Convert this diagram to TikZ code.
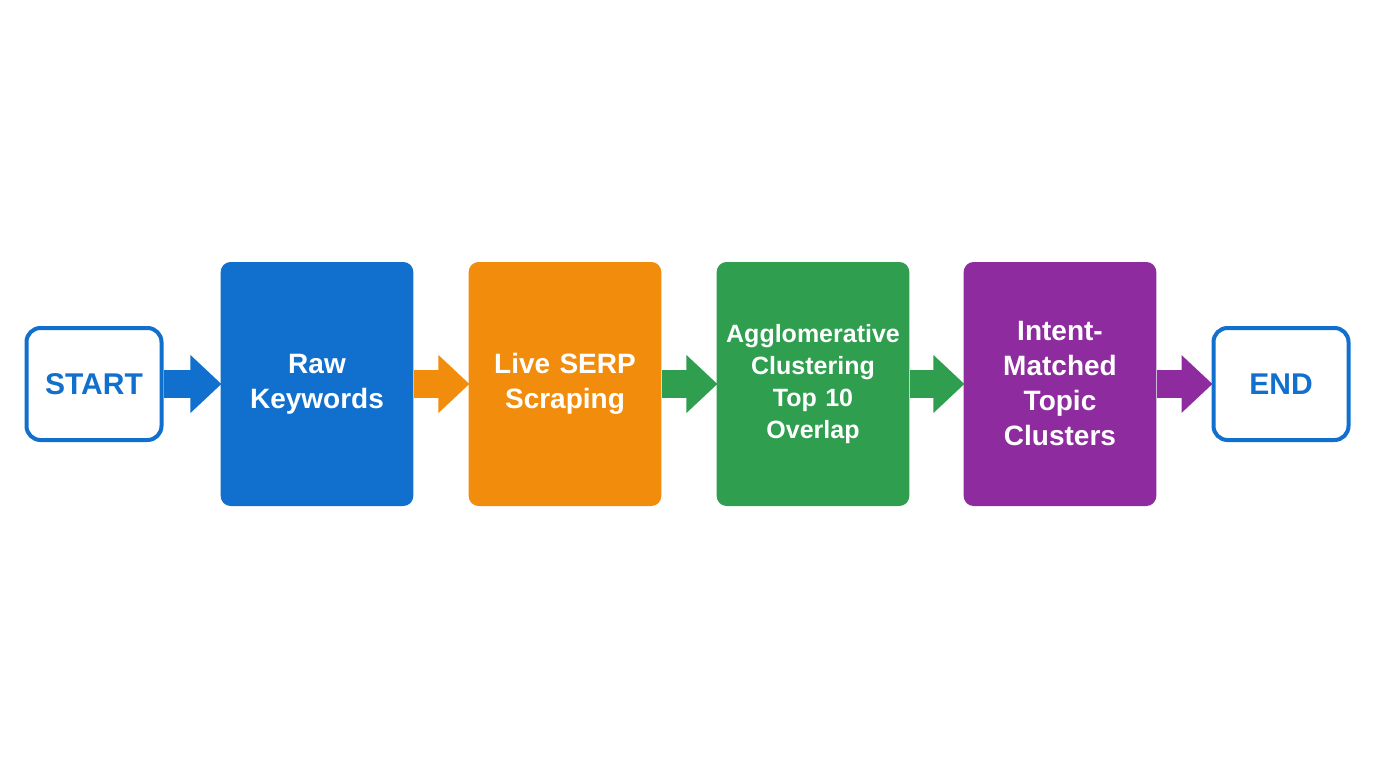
\documentclass[tikz,border=0pt]{standalone}
\usepackage{fontspec}
\setmainfont{Liberation Sans}
\usetikzlibrary{arrows.meta}
\definecolor{cblue}{HTML}{1170CD}
\definecolor{corange}{HTML}{F28C0C}
\definecolor{cgreen}{HTML}{2F9E4F}
\definecolor{cpurple}{HTML}{8E2B9E}
\begin{document}
\begin{tikzpicture}[x=1pt,y=-1pt]
    % Styles
    \tikzset{
      stage/.style={rectangle, rounded corners=10pt, minimum width=192pt, minimum height=244pt,
        text width=186pt, align=center, text=white, font=\bfseries\fontsize{28}{35}\selectfont},
      term/.style={draw=cblue, line width=4pt, rectangle, rounded corners=14pt, fill=white,
        minimum width=135pt, minimum height=112pt, text=cblue, font=\bfseries\fontsize{30}{34}\selectfont},
      flow/.style={line width=28pt, -{Triangle[length=31pt,width=56pt]}, shorten >=-1pt}
    }
    \useasboundingbox (0,0) rectangle (1376,768);

    % Terminals
    \node[term] (start) at (94,384) {START};
    \node[term] (end) at (1281,384) {END};

    % Process steps
    \node[stage, fill=cblue] (raw) at (317,384) {Raw\\Keywords};
    \node[stage, fill=corange] (serp) at (565,384) {Live SERP\\Scraping};
    \node[stage, fill=cgreen, font=\bfseries\fontsize{25}{32}\selectfont] (clust) at (813,384)
      {Agglomerative\\Clustering\\Top 10\\Overlap};
    \node[stage, fill=cpurple] (intent) at (1060,384) {Intent-\\Matched\\Topic\\Clusters};

    % Arrows
    \draw[flow, cblue] (start.east) -- (raw.west);
    \draw[flow, corange] (raw.east) -- (serp.west);
    \draw[flow, cgreen] (serp.east) -- (clust.west);
    \draw[flow, cgreen] (clust.east) -- (intent.west);
    \draw[flow, cpurple] (intent.east) -- (end.west);
\end{tikzpicture}
\end{document}
